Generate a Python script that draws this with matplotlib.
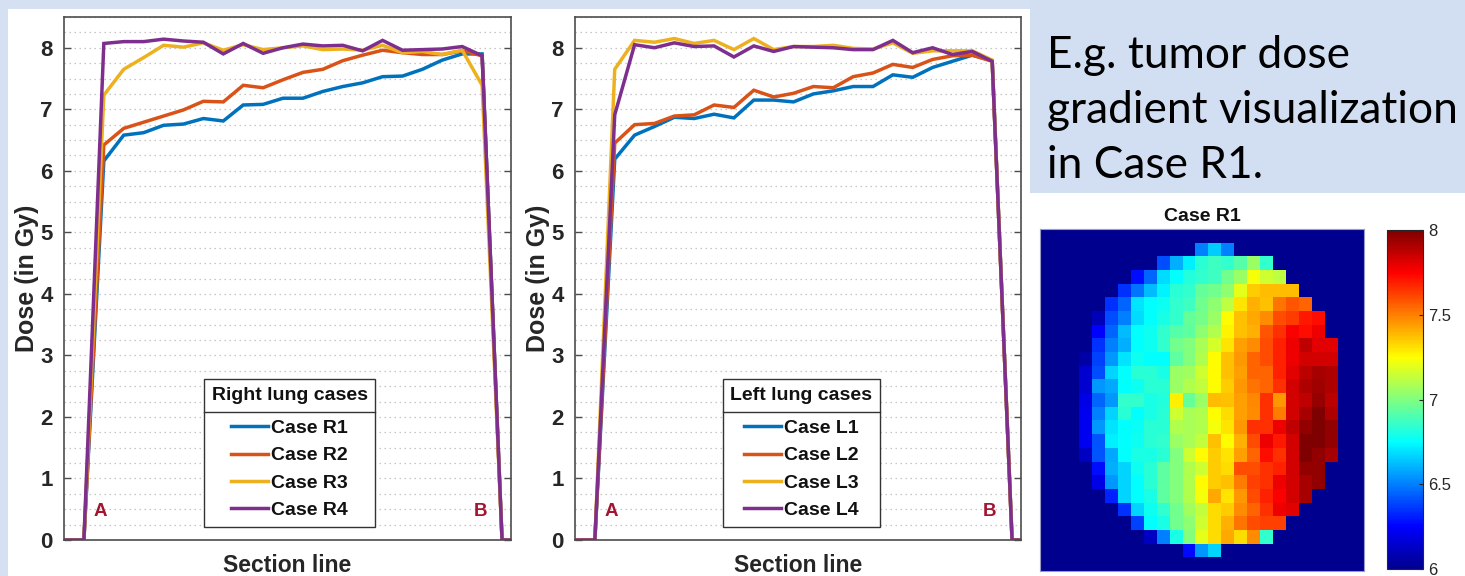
import numpy as np
import matplotlib
matplotlib.use('Agg')
import matplotlib.pyplot as plt
from matplotlib.ticker import MultipleLocator
from matplotlib.patches import Rectangle
from matplotlib.lines import Line2D
from matplotlib.colors import LinearSegmentedColormap

W, H = 1465, 576
plt.rcParams['font.family'] = ['Liberation Sans', 'DejaVu Sans']

# ---------------- data ----------------
section_idx = np.arange(24)          # sample positions along the section line

right_R1 = [6.16, 6.58, 6.62, 6.74, 6.76, 6.85, 6.81, 7.07, 7.08, 7.18,
            7.18, 7.29, 7.37, 7.43, 7.53, 7.54, 7.65, 7.80, 7.90, 7.90]
right_R2 = [6.42, 6.69, 6.79, 6.89, 6.99, 7.13, 7.12, 7.39, 7.35, 7.48,
            7.60, 7.65, 7.79, 7.88, 7.96, 7.92, 7.89, 7.89, 7.95, 7.87]
right_R3 = [7.23, 7.65, 7.84, 8.04, 8.01, 8.08, 7.96, 8.05, 7.97, 8.00,
            8.03, 7.97, 7.98, 7.96, 8.04, 7.92, 7.94, 7.89, 7.96, 7.39]
right_R4 = [8.07, 8.10, 8.10, 8.14, 8.11, 8.09, 7.90, 8.07, 7.91, 8.00,
            8.06, 8.03, 8.04, 7.95, 8.12, 7.96, 7.97, 7.98, 8.02, 7.87]

left_L1 = [6.19, 6.58, 6.72, 6.87, 6.85, 6.92, 6.86, 7.15, 7.15, 7.12,
           7.25, 7.30, 7.37, 7.37, 7.56, 7.52, 7.68, 7.78, 7.88, 7.79]
left_L2 = [6.45, 6.75, 6.77, 6.89, 6.91, 7.07, 7.03, 7.31, 7.20, 7.26,
           7.37, 7.35, 7.53, 7.59, 7.73, 7.68, 7.81, 7.87, 7.88, 7.78]
left_L3 = [7.65, 8.12, 8.09, 8.15, 8.07, 8.12, 7.97, 8.15, 7.97, 8.02,
           8.02, 8.04, 7.99, 7.98, 8.08, 7.91, 7.95, 7.95, 7.95, 7.80]
left_L4 = [6.91, 8.05, 8.00, 8.08, 8.02, 8.03, 7.85, 8.03, 7.94, 8.02,
           8.01, 8.00, 7.97, 7.97, 8.12, 7.92, 8.00, 7.89, 7.94, 7.78]

right_labels = ['Case R1', 'Case R2', 'Case R3', 'Case R4']
left_labels = ['Case L1', 'Case L2', 'Case L3', 'Case L4']
line_colors = ['#0072BD', '#D95319', '#EDB120', '#7E2F8E']
y_ticks = [0, 1, 2, 3, 4, 5, 6, 7, 8]

# heatmap (Case R1): first filled column of each row 1..23 and the cell doses
heat_start_cols = [12, 9, 7, 6, 5, 4, 4, 4, 3, 3, 3, 3, 3, 3, 3, 3, 4, 4, 5, 6, 7, 8, 11]
heat_rows = [
    [6.5, 6.65, 6.5],
    [6.4, 6.6, 6.72, 6.83, 6.87, 6.85, 6.92, 7.05, 6.85],
    [6.28, 6.45, 6.68, 6.75, 6.82, 6.85, 6.87, 6.97, 7.05, 7.23, 7.15, 7.12],
    [6.35, 6.48, 6.62, 6.73, 6.83, 6.85, 6.95, 6.97, 7.03, 7.2, 7.35, 7.38, 7.38, 7.38],
    [6.35, 6.45, 6.7, 6.75, 6.78, 6.85, 6.87, 6.97, 7.03, 7.12, 7.3, 7.4, 7.37, 7.52, 7.58, 7.55],
    [6.1, 6.4, 6.5, 6.68, 6.75, 6.8, 6.85, 6.95, 6.98, 7.05, 7.25, 7.37, 7.42, 7.47, 7.6, 7.63, 7.7, 7.72],
    [6.25, 6.45, 6.62, 6.75, 6.78, 6.85, 6.92, 6.93, 7.03, 7.1, 7.27, 7.37, 7.4, 7.58, 7.65, 7.75, 7.72, 7.78],
    [6.35, 6.5, 6.6, 6.75, 6.78, 6.85, 6.97, 7.0, 7.08, 7.17, 7.3, 7.43, 7.47, 7.6, 7.68, 7.78, 7.87, 7.8, 7.8],
    [6.05, 6.38, 6.55, 6.7, 6.78, 6.75, 6.75, 6.93, 7.0, 7.1, 7.25, 7.37, 7.45, 7.55, 7.6, 7.68, 7.78, 7.83, 7.83, 7.83],
    [6.15, 6.4, 6.67, 6.75, 6.83, 6.83, 6.8, 7.05, 7.07, 7.15, 7.25, 7.37, 7.43, 7.55, 7.55, 7.68, 7.8, 7.88, 7.92, 7.9],
    [6.15, 6.55, 6.58, 6.75, 6.78, 6.83, 6.83, 7.05, 7.1, 7.13, 7.25, 7.35, 7.45, 7.52, 7.55, 7.65, 7.83, 7.9, 7.93, 7.9],
    [6.2, 6.45, 6.55, 6.85, 6.85, 6.8, 6.82, 7.28, 6.95, 7.05, 7.38, 7.37, 7.43, 7.48, 7.65, 7.45, 7.83, 7.87, 7.95, 7.88],
    [6.22, 6.5, 6.67, 6.83, 6.75, 6.8, 6.83, 7.15, 7.08, 7.1, 7.25, 7.32, 7.43, 7.47, 7.65, 7.5, 7.83, 7.92, 8.0, 7.9],
    [6.22, 6.55, 6.7, 6.75, 6.77, 6.83, 6.83, 7.1, 7.08, 7.1, 7.23, 7.3, 7.45, 7.65, 7.65, 7.78, 7.87, 7.96, 8.0, 7.96],
    [6.22, 6.42, 6.72, 6.75, 6.78, 6.83, 6.85, 7.05, 7.08, 7.13, 7.37, 7.25, 7.4, 7.6, 7.78, 7.7, 7.83, 8.0, 8.0, 7.96],
    [6.12, 6.42, 6.58, 6.75, 6.8, 6.8, 6.83, 7.0, 7.15, 7.25, 7.35, 7.3, 7.43, 7.55, 7.72, 7.65, 7.83, 8.0, 7.96, 7.92],
    [6.28, 6.6, 6.67, 6.78, 6.83, 6.93, 7.0, 7.1, 7.15, 7.35, 7.32, 7.6, 7.6, 7.65, 7.68, 7.83, 7.96, 7.96],
    [6.2, 6.55, 6.67, 6.75, 6.83, 6.93, 7.0, 7.1, 7.25, 7.35, 7.37, 7.5, 7.62, 7.65, 7.78, 7.83, 7.92, 7.96],
    [6.32, 6.67, 6.75, 6.8, 6.93, 7.0, 7.1, 7.23, 7.42, 7.3, 7.45, 7.6, 7.68, 7.75, 7.83, 7.92],
    [6.35, 6.67, 6.78, 6.85, 6.97, 7.07, 7.13, 7.32, 7.35, 7.47, 7.55, 7.65, 7.78, 7.8],
    [6.38, 6.75, 6.8, 6.97, 7.03, 7.15, 7.32, 7.4, 7.52, 7.6, 7.62, 7.62],
    [6.12, 6.5, 6.8, 7.0, 7.2, 7.32, 7.42, 7.32, 7.47, 6.85],
    [6.27, 6.55, 6.67],
]
heat_size = 25
heat_background = 6.0
cbar_ticks = [6, 6.5, 7, 7.5, 8]
cbar_ticklabels = ['6', '6.5', '7', '7.5', '8']

info_lines = ['E.g. tumor dose', 'gradient visualization', 'in Case R1.']

# MATLAB-style jet colormap
matlab_jet = LinearSegmentedColormap.from_list('matlab_jet', [
    (0.0, (0, 0, 0.5625)), (0.125, (0, 0, 1)), (0.375, (0, 1, 1)),
    (0.625, (1, 1, 0)), (0.875, (1, 0, 0)), (1.0, (0.5, 0, 0))], N=256)


def profile(vals):
    return [0.0, 0.0] + list(vals) + [0.0, 0.0]


def px_rect(x0, y0, x1, y1):
    """pixel box (top-left origin) -> figure fraction rect"""
    return [x0 / W, 1 - y1 / H, (x1 - x0) / W, (y1 - y0) / H]


fig = plt.figure(figsize=(W / 100, H / 100), dpi=100)
fig.patch.set_facecolor('#d5e1f3')
fig.add_artist(Rectangle((8 / W, 0), (1030 - 8) / W, (H - 9) / H, transform=fig.transFigure,
                         facecolor='white', edgecolor='none', zorder=-10))
fig.add_artist(Rectangle((1030 / W, 0), (W - 1030) / W, (H - 193) / H, transform=fig.transFigure,
                         facecolor='white', edgecolor='none', zorder=-10))
fig.add_artist(Rectangle((1030 / W, 1 - 193 / H), (W - 1030) / W, 193 / H, transform=fig.transFigure,
                         facecolor='#d2def1', edgecolor='none', zorder=-10))

spine_col = '#4d4d4d'
text_col = '#262626'
LEG_FS = 14
LEG_SPACING = 0.5
TITLE_GAP_PT = 11.4


def line_panel(rect, series, labels, legend_title, leg_anchor, a_pos, b_pos):
    ax = fig.add_axes(rect)
    for vals, lab, col in zip(series, labels, line_colors):
        ax.plot(section_idx, profile(vals), color=col, lw=2.5, label=lab, solid_joinstyle='miter')
    ax.set_xlim(0, 22.45)
    ax.set_ylim(0, 8.5)
    ax.set_xticks([])
    ax.set_yticks(y_ticks)
    ax.yaxis.set_minor_locator(MultipleLocator(0.25))
    ax.tick_params(axis='y', which='major', direction='in', length=5, width=1, left=True, right=True,
                   labelsize=16, pad=8, colors=spine_col, labelcolor=text_col)
    ax.tick_params(axis='y', which='minor', length=0)
    for lbl in ax.get_yticklabels():
        lbl.set_fontweight('bold')
    ax.grid(which='both', axis='y', linestyle=(0, (1.2, 2.8)), color='#c4c4c4', lw=0.9)
    ax.set_axisbelow(True)
    for s in ax.spines.values():
        s.set_color(spine_col)
        s.set_linewidth(1.2)
    ax.set_ylabel('Dose (in Gy)', fontsize=18, fontweight='bold', color=text_col)
    ax.yaxis.set_label_coords(-0.057, 0.5)
    ax.set_xlabel('Section line', fontsize=16.5, fontweight='bold', color=text_col)
    ax.xaxis.set_label_coords(0.5, -0.026)
    ax.text(a_pos[0], a_pos[1], 'A', color='#A2142F', fontsize=13.5, fontweight='bold', ha='center', va='center')
    ax.text(b_pos[0], b_pos[1], 'B', color='#A2142F', fontsize=13.5, fontweight='bold', ha='center', va='center')
    leg = ax.legend(loc='upper left', bbox_to_anchor=leg_anchor, borderaxespad=0,
                    title=legend_title, prop={'weight': 'bold', 'size': LEG_FS},
                    title_fontproperties={'weight': 'bold', 'size': LEG_FS},
                    alignment='center', handlelength=1.9, handletextpad=0.15,
                    labelspacing=LEG_SPACING, borderpad=0.4, fancybox=False, framealpha=1)
    if hasattr(leg, '_legend_box'):
        leg._legend_box.sep = TITLE_GAP_PT   # wider gap between title and entries
    leg.get_frame().set_edgecolor('#333333')
    leg.get_frame().set_linewidth(1.0)
    for t in leg.get_texts():
        t.set_color('#111111')
    leg.get_title().set_color('#111111')
    return ax, leg


ax1, leg1 = line_panel(px_rect(64, 17, 511, 540), [right_R1, right_R2, right_R3, right_R4],
                       right_labels, 'Right lung cases', (0.313, 0.308), (1.8, 0.47), (20.9, 0.47))
ax2, leg2 = line_panel(px_rect(575, 17, 1021, 540), [left_L1, left_L2, left_L3, left_L4],
                       left_labels, 'Left lung cases', (0.331, 0.308), (1.85, 0.47), (20.85, 0.47))

# ---------------- heatmap ----------------
heat = np.full((heat_size, heat_size), heat_background)
for r, (c0, vals) in enumerate(zip(heat_start_cols, heat_rows), start=1):
    heat[r, c0:c0 + len(vals)] = vals

axh = fig.add_axes(px_rect(1040, 229, 1364, 571))
im = axh.imshow(heat, cmap=matlab_jet, vmin=6, vmax=8, aspect='auto', interpolation='nearest',
                extent=(0, heat_size, heat_size, 0))
axh.set_xticks([])
axh.set_yticks([])
for s in axh.spines.values():
    s.set_color('#9a9ac8')
    s.set_linewidth(0.8)
axh.set_title('Case R1', fontsize=14, fontweight='bold', color='#111111', pad=6)

cax = fig.add_axes(px_rect(1387, 230, 1423, 569))
cb = fig.colorbar(im, cax=cax, ticks=cbar_ticks)
cb.ax.set_yticklabels(cbar_ticklabels)
cb.ax.tick_params(direction='in', length=3, width=0.8, labelsize=12, colors='#262626', pad=4)
cb.outline.set_edgecolor('#262626')
cb.outline.set_linewidth(0.8)

# ---------------- caption text ----------------
baselines = [68, 123, 178]
txts = [fig.text(1047 / W, 1 - b / H, s, fontsize=30, family=['Lato', 'DejaVu Sans'], color='black',
                 va='baseline', ha='left') for s, b in zip(info_lines, baselines)]

fig.canvas.draw()
renderer = fig.canvas.get_renderer()
target_w = 410
wid = txts[1].get_window_extent(renderer).width
for t in txts:
    t.set_fontsize(30 * target_w / wid)

# separator under legend titles
fig.canvas.draw()
for leg in (leg1, leg2):
    fb = leg.get_frame().get_window_extent(renderer)
    tb = leg.get_title().get_window_extent(renderer)
    eb = leg.get_texts()[0].get_window_extent(renderer)
    ysep = 0.5 * (tb.y0 + eb.y1)
    fig.add_artist(Line2D([fb.x0 / W, fb.x1 / W], [ysep / H, ysep / H], transform=fig.transFigure,
                          color='#333333', lw=1.0, zorder=10))

fig.savefig('out.png', dpi=100, facecolor=fig.get_facecolor())
